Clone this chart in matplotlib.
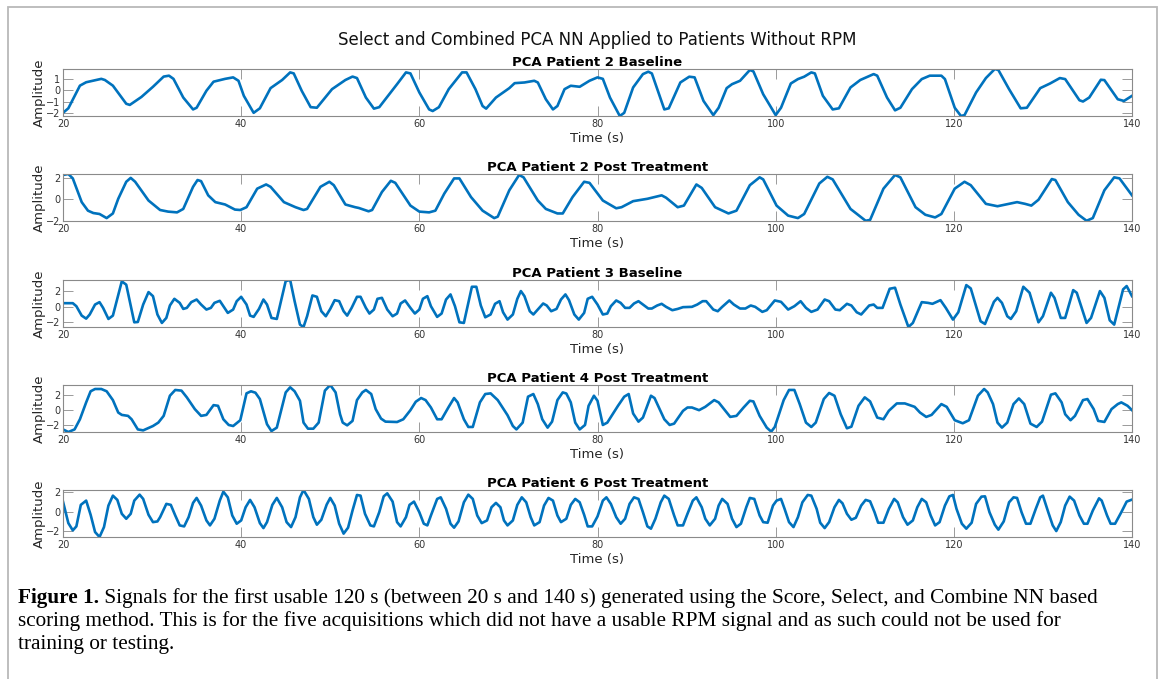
import matplotlib
matplotlib.use("Agg")
import matplotlib.pyplot as plt
from matplotlib.patches import Rectangle

# ---------------- data (time s, amplitude) ----------------
suptitle_text = "Select and Combined PCA NN Applied to Patients Without RPM"
panel_titles = ["PCA Patient 2 Baseline", "PCA Patient 2 Post Treatment",
                "PCA Patient 3 Baseline", "PCA Patient 4 Post Treatment",
                "PCA Patient 6 Post Treatment"]
x_ticks = [20, 40, 60, 80, 100, 120, 140]
y_ticks = [[-2, -1, 0, 1], [-2, 0, 2], [-2, 0, 2], [-2, 0, 2], [-2, 0, 2]]

p2_baseline = [(20,-2.0),(20.6,-1.6),(21.9,0.4),(22.6,0.7),(24.3,1.0),(24.7,0.9),(25.6,0.4),(27.1,-1.2),(27.5,-1.3),(28.8,-0.6),
 (30.1,0.3),(31.3,1.2),(31.9,1.28),(32.4,1.0),(33.5,-0.65),(34.6,-1.7),(35.0,-1.55),(36.1,-0.05),(36.9,0.75),(38.2,1.0),
 (39.1,1.13),(39.7,0.83),(40.3,-0.5),(41.4,-2.0),(42.1,-1.6),(43.3,0.18),(44.6,0.9),(45.5,1.57),(45.9,1.48),(46.8,-0.06),
 (47.8,-1.5),(48.5,-1.55),(50.2,0.09),(51.7,0.9),(52.5,1.2),(53.0,1.07),(54.0,-0.65),(54.9,-1.63),(55.5,-1.5),(57.5,0.53),
 (58.5,1.57),(59.0,1.48),(60.0,-0.2),(61.1,-1.7),(61.5,-1.84),(62.2,-1.5),(63.3,0.09),(64.8,1.57),(65.3,1.57),(66.3,0.09),
 (67.1,-1.4),(67.5,-1.63),(68.6,-0.65),(70.1,0.18),(70.7,0.62),(71.8,0.68),(72.9,0.83),(73.3,0.68),(74.2,-0.8),(75.0,-1.7),
 (75.5,-1.4),(76.3,0.09),(77.0,0.39),(78.0,0.3),(79.1,0.83),(80.0,1.13),(80.6,1.0),(81.4,-0.65),(82.5,-2.28),(83.0,-2.0),
 (84.0,0.24),(85.1,1.42),(85.7,1.63),(86.1,1.48),(87.5,-1.7),(88.0,-1.6),(89.3,0.68),(90.3,1.19),(90.9,1.13),(91.9,-0.95),
 (93.0,-2.2),(93.6,-1.55),(94.5,0.18),(95.1,0.53),(96.0,0.83),(97.1,1.78),(97.5,1.66),(98.6,-0.36),(100.0,-2.2),(100.6,-1.55),
 (101.7,0.59),(102.5,0.98),(103.2,1.19),(104.0,1.57),(104.4,1.48),(105.3,-0.5),(106.4,-1.7),(107.1,-1.6),(108.4,0.24),(109.5,0.9),
 (111.0,1.42),(111.4,1.28),(112.5,-0.65),(113.4,-1.78),(114.0,-1.55),(115.3,0.09),(116.4,0.98),(117.3,1.28),(118.6,1.28),(119.0,0.98),
 (120.1,-1.55),(120.8,-2.28),(121.2,-2.2),(122.5,-0.2),(123.6,1.07),(124.6,1.87),(125.0,1.78),(126.2,0.09),(127.5,-1.6),(128.2,-1.55),
 (129.7,0.18),(130.8,0.59),(131.9,1.07),(132.5,0.98),(134.1,-0.89),(134.5,-1.0),(135.2,-0.65),(136.5,0.92),(136.9,0.89),(138.4,-0.8),
 (139.1,-0.95),(140.0,-0.5)]

p2_post = [(20,2.27),(20.6,2.36),(21.1,1.95),(22.1,-0.25),(22.8,-1.04),(23.4,-1.26),(24.1,-1.35),(24.9,-1.73),(25.6,-1.3),(26.2,0.06),
 (27.1,1.64),(27.6,2.0),(28.1,1.64),(29.6,-0.1),(30.9,-0.98),(31.8,-1.13),(32.8,-1.2),(33.5,-0.88),(34.6,1.17),(35.1,1.8),
 (35.5,1.7),(36.3,0.38),(37.1,-0.25),(38.2,-0.47),(39.3,-0.94),(39.9,-0.98),(40.6,-0.72),(41.8,1.0),(42.8,1.39),(43.3,1.17),
 (44.8,-0.25),(46.1,-0.72),(47.0,-0.98),(47.4,-0.88),(48.9,1.17),(49.9,1.64),(50.4,1.32),(51.7,-0.47),(52.8,-0.72),(53.2,-0.79),
 (54.3,-1.1),(54.7,-0.98),(55.8,0.69),(56.8,1.73),(57.3,1.54),(59.0,-0.57),(60.0,-1.13),(61.1,-1.2),(61.8,-1.04),(62.8,0.54),
 (63.9,1.95),(64.5,1.95),(65.8,0.22),(67.1,-1.04),(68.4,-1.73),(68.8,-1.6),(70.1,0.85),(71.2,2.27),(71.7,2.05),(73.3,-0.1),
 (74.2,-0.88),(75.5,-1.3),(76.1,-1.3),(77.2,0.22),(78.5,1.64),(79.1,1.54),(80.6,-0.1),(82.1,-0.82),(82.7,-0.72),(84.0,-0.16),
 (85.6,0.06),(87.2,0.38),(87.7,0.16),(89.0,-0.72),(89.7,-0.57),(91.1,1.39),(91.7,1.07),(93.2,-0.72),(94.7,-1.3),(95.6,-1.04),
 (97.1,1.32),(98.2,2.05),(98.6,1.86),(100.1,-0.57),(101.4,-1.5),(102.5,-1.73),(103.2,-1.35),(104.9,1.48),(105.8,2.1),(106.4,1.86),
 (108.4,-0.88),(110.1,-1.98),(110.6,-1.9),(112.1,1.0),(113.4,2.27),(114.0,2.05),(115.7,-0.72),(116.8,-1.42),(117.9,-1.67),(118.6,-1.35),
 (120.1,1.0),(121.2,1.64),(121.9,1.32),(123.6,-0.41),(124.9,-0.63),(127.1,-0.25),(128.0,-0.41),(128.7,-0.57),(129.5,-0.03),(131.0,1.89),
 (131.4,1.8),(132.8,-0.25),(134.0,-1.42),(134.9,-1.98),(135.6,-1.73),(136.9,0.85),(138.0,2.05),(138.6,1.95),(140.0,0.38)]

p3_baseline = [(20,0.42),(21.1,0.42),(21.5,0.04),(22.1,-1.14),(22.6,-1.52),(23.0,-1.0),(23.6,0.25),(24.1,0.55),(24.5,-0.17),(25.1,-1.56),
 (25.6,-1.14),(26.6,3.16),(27.1,2.74),(28.0,-1.98),(28.4,-1.94),(29.0,0.25),(29.6,1.81),(30.1,1.3),(30.6,-1.0),(31.1,-2.06),
 (31.6,-1.43),(32.0,0.13),(32.5,0.97),(33.1,0.46),(33.5,-0.3),(33.9,-0.17),(34.4,0.55),(35.0,0.88),(35.5,0.25),(36.1,-0.38),
 (36.6,-0.17),(37.0,0.46),(37.6,0.72),(38.0,0.04),(38.5,-0.8),(39.1,-0.38),(39.5,0.67),(40.0,1.22),(40.6,0.25),(41.0,-1.14),
 (41.4,-1.3),(42.0,-0.3),(42.5,0.88),(42.9,0.25),(43.4,-1.43),(44.0,-1.56),(45.0,3.2),(45.5,3.33),(46.0,0.67),(46.6,-2.27),
 (47.0,-2.57),(47.4,-1.22),(48.0,1.39),(48.5,1.22),(49.0,-0.59),(49.5,-1.22),(50.0,-0.3),(50.5,0.8),(51.0,0.67),(51.5,-0.59),
 (51.9,-1.14),(52.4,-0.17),(53.0,1.22),(53.4,1.22),(54.0,-0.17),(54.4,-0.88),(54.9,-0.38),(55.3,0.97),(55.8,1.09),(56.4,-0.38),
 (57.0,-1.22),(57.5,-0.88),(57.9,0.38),(58.4,0.76),(59.0,-0.17),(59.5,-0.88),(60.0,-0.38),(60.4,0.97),(60.9,1.3),(61.3,0.04),
 (62.0,-1.3),(62.5,-0.88),(63.0,0.88),(63.5,1.52),(64.0,0.04),(64.5,-1.98),(65.0,-2.06),(65.9,2.48),(66.4,2.48),(66.9,0.13),
 (67.4,-1.35),(68.0,-1.0),(68.5,0.34),(69.0,0.67),(69.4,-0.72),(69.9,-1.64),(70.5,-1.0),(71.0,0.97),(71.4,1.94),(71.8,1.3),
 (72.4,-0.59),(72.8,-1.0),(73.3,-0.38),(73.9,0.38),(74.3,0.13),(74.8,-0.59),(75.4,-0.3),(75.9,0.88),(76.4,1.52),(76.8,0.8),
 (77.4,-1.0),(77.9,-1.64),(78.5,-0.8),(78.9,0.97),(79.4,1.22),(80.0,0.25),(80.6,-1.0),(81.1,-0.88),(81.5,0.04),(82.1,0.76),
 (82.6,0.46),(83.1,-0.17),(83.6,-0.17),(84.1,0.38),(84.6,0.67),(85.1,0.25),(85.7,-0.25),(86.1,-0.25),(86.7,0.13),(87.2,0.34),
 (87.7,-0.04),(88.4,-0.46),(89.0,-0.3),(89.6,-0.08),(90.6,-0.04),(91.2,0.25),(91.8,0.67),(92.2,0.67),(93.0,-0.38),(93.5,-0.59),
 (94.0,-0.04),(94.8,0.76),(95.3,0.25),(96.0,-0.25),(96.6,-0.25),(97.2,0.13),(97.7,-0.04),(98.5,-0.67),(99.0,-0.46),(99.9,0.76),
 (100.6,0.59),(101.4,-0.38),(102.1,0.04),(102.8,0.67),(103.4,-0.17),(104.0,-0.67),(104.7,-0.38),(105.5,0.88),(106.0,0.67),(106.7,-0.38),
 (107.2,-0.46),(108.0,0.34),(108.5,0.13),(109.1,-0.72),(109.6,-1.0),(110.5,0.13),(111.0,0.25),(111.4,-0.17),(112.0,-0.17),(112.8,2.23),
 (113.4,2.36),(114.0,0.25),(114.9,-2.57),(115.4,-2.06),(116.4,0.55),(117.1,0.46),(117.6,0.34),(118.5,0.8),(119.1,-0.17),(119.9,-1.64),
 (120.5,-0.72),(121.4,2.69),(121.9,2.27),(123.0,-1.85),(123.5,-2.19),(124.5,0.59),(124.9,1.09),(125.4,0.46),(126.0,-1.22),(126.4,-1.56),
 (127.0,-0.59),(127.8,2.48),(128.5,1.73),(129.5,-1.98),(130.0,-1.22),(130.9,1.73),(131.3,1.09),(132.0,-1.43),(132.5,-1.43),(133.4,2.06),
 (133.8,1.73),(134.9,-2.06),(135.4,-1.43),(136.4,1.94),(136.9,1.09),(137.5,-1.73),(138.0,-2.27),(139.0,2.15),(139.4,2.57),(140.0,1.3)]

p4_post = [(20,-2.6),(20.6,-2.95),(21.3,-2.6),(21.9,-1.23),(22.6,1.05),(23.1,2.55),(23.6,2.86),(24.3,2.86),(24.9,2.55),(25.6,1.36),
 (26.2,-0.32),(26.6,-0.64),(27.3,-0.77),(27.7,-1.23),(28.4,-2.6),(29.0,-2.73),(30.1,-2.14),(30.7,-1.68),(31.3,-0.77),(32.0,1.95),
 (32.6,2.73),(33.3,2.64),(33.9,1.73),(34.8,0.14),(35.5,-0.77),(36.1,-0.64),(36.9,0.68),(37.4,0.59),(38.0,-1.23),(38.6,-2.0),
 (39.1,-2.14),(39.9,-1.36),(40.6,2.27),(41.1,2.55),(41.6,2.36),(42.1,1.5),(42.9,-1.9),(43.4,-2.82),(44.0,-2.36),(45.0,2.4),
 (45.5,3.09),(46.0,2.55),(46.6,1.27),(47.0,-1.68),(47.5,-2.5),(48.1,-2.5),(48.7,-1.68),(49.4,2.64),(50.0,3.4),(50.6,2.4),
 (51.1,-0.55),(51.4,-1.68),(51.9,-2.05),(52.5,-1.45),(53.0,1.36),(53.6,2.4),(54.0,2.73),(54.6,2.18),(55.1,0.14),(55.7,-1.14),
 (56.2,-1.55),(57.5,-1.6),(58.2,-1.23),(59.0,0.0),(59.6,1.14),(60.2,1.64),(60.7,1.36),(61.3,0.36),(62.0,-1.23),(62.5,-1.23),
 (63.3,0.45),(63.9,1.64),(64.3,1.05),(65.0,-1.23),(65.5,-2.27),(66.0,-2.27),(66.8,1.05),(67.4,2.18),(68.0,2.27),(68.8,1.36),
 (69.9,-0.68),(70.5,-2.14),(70.9,-2.6),(71.6,-1.68),(72.2,1.82),(72.8,2.18),(73.3,0.82),(73.8,-1.23),(74.4,-2.36),(74.9,-1.55),
 (75.5,1.36),(76.1,2.4),(76.5,2.25),(77.0,1.05),(77.5,-1.68),(78.0,-2.6),(78.6,-2.0),(79.0,0.59),(79.6,1.95),(80.0,1.27),
 (80.6,-2.0),(81.1,-1.68),(82.3,0.59),(83.0,1.82),(83.5,2.18),(84.0,-0.45),(84.6,-1.55),(85.1,-1.0),(86.0,1.95),(86.4,1.64),
 (87.5,-1.23),(88.1,-2.0),(88.6,-1.82),(89.6,-0.09),(90.1,0.36),(90.6,0.36),(91.4,0.0),(92.1,0.45),(93.1,1.36),(93.6,1.05),
 (94.9,-0.91),(95.6,-0.77),(96.4,0.36),(97.1,1.27),(97.5,1.18),(98.2,-0.77),(99.0,-2.36),(99.5,-2.9),(99.9,-2.27),(100.9,1.36),
 (101.5,2.73),(102.1,2.73),(102.7,0.82),(103.4,-1.68),(104.0,-2.27),(104.5,-1.68),(105.4,1.5),(106.0,2.32),(106.6,1.95),(107.3,-0.55),
 (108.0,-2.45),(108.5,-2.23),(109.3,0.59),(110.0,1.73),(110.6,1.18),(111.4,-1.0),(112.1,-1.23),(112.7,-0.09),(113.6,0.91),(114.5,0.91),
 (115.6,0.45),(116.2,-0.32),(116.9,-0.91),(117.5,-0.64),(118.6,0.82),(119.2,0.45),(120.1,-1.36),(121.0,-1.77),(121.7,-1.36),(122.7,1.95),
 (123.4,2.86),(123.8,2.4),(124.4,0.82),(124.9,-1.68),(125.4,-2.36),(126.0,-1.68),(126.7,0.82),(127.3,1.59),(127.9,0.82),(128.6,-1.82),
 (129.3,-2.27),(129.9,-1.55),(130.9,2.09),(131.4,2.27),(132.1,1.05),(132.5,-0.55),(133.1,-1.36),(133.6,-0.77),(134.5,1.36),(135.0,1.5),
 (135.7,0.14),(136.2,-1.45),(136.9,-1.59),(137.7,0.14),(138.4,0.82),(138.8,1.05),(139.5,0.59),(140.0,0.0)]

p6_post = [(20,1.0),(20.2,0.27),(20.6,-1.17),(21.1,-1.9),(21.5,-1.5),(22.0,0.67),(22.6,1.1),(23.1,-0.33),(23.6,-2.07),(24.1,-2.57),
 (24.6,-1.57),(25.1,0.6),(25.6,1.6),(26.1,1.17),(26.6,-0.23),(27.1,-0.73),(27.6,-0.23),(28.0,1.1),(28.6,1.7),(29.0,1.27),
 (29.6,-0.33),(30.1,-1.07),(30.6,-1.0),(30.9,-0.57),(31.6,0.77),(32.1,0.67),(32.6,-0.4),(33.1,-1.4),(33.6,-1.5),(34.1,-0.57),
 (34.6,0.87),(35.0,1.37),(35.5,0.6),(36.1,-0.9),(36.5,-1.4),(37.0,-0.73),(37.6,1.1),(38.0,2.0),(38.5,1.43),(39.0,-0.4),
 (39.5,-1.23),(40.0,-0.9),(40.5,0.43),(41.0,1.17),(41.5,0.43),(42.1,-1.17),(42.5,-1.67),(42.9,-1.07),(43.5,0.67),(44.0,1.37),
 (44.6,0.43),(45.1,-1.07),(45.6,-1.57),(46.1,-0.57),(46.6,1.43),(47.0,2.17),(47.6,1.27),(48.1,-0.57),(48.5,-1.33),(49.0,-0.83),
 (49.6,0.7),(50.0,1.37),(50.5,0.6),(51.0,-1.23),(51.5,-2.23),(52.0,-1.63),(52.5,0.1),(53.0,1.67),(53.4,1.6),(53.9,-0.23),
 (54.5,-1.4),(54.9,-1.5),(55.5,-0.07),(56.0,1.53),(56.4,1.83),(57.0,1.0),(57.5,-1.07),(57.9,-1.5),(58.5,-0.57),(58.9,0.67),
 (59.4,1.0),(60.0,-0.07),(60.5,-1.23),(60.9,-1.4),(61.3,-0.4),(62.0,1.27),(62.4,1.43),(63.0,0.27),(63.5,-1.23),(63.9,-1.63),
 (64.4,-1.0),(65.0,0.93),(65.5,1.7),(66.0,1.27),(66.5,-0.4),(67.0,-1.17),(67.6,-0.9),(68.1,0.43),(68.6,0.87),(69.1,0.43),
 (69.5,-0.9),(69.9,-1.4),(70.5,-0.9),(71.0,0.67),(71.5,1.43),(72.0,0.93),(72.5,-0.57),(72.9,-1.4),(73.5,-1.07),(74.0,0.6),
 (74.5,1.37),(75.0,1.1),(75.5,-0.4),(75.9,-1.07),(76.5,-0.73),(77.0,0.67),(77.5,1.27),(78.0,0.93),(78.5,-0.33),(78.9,-1.5),
 (79.4,-1.5),(80.0,-0.5),(80.6,1.1),(81.0,1.43),(81.5,0.77),(82.1,-0.57),(82.6,-1.23),(83.1,-0.73),(83.6,0.77),(84.1,1.43),
 (84.6,1.27),(85.1,-0.07),(85.6,-1.5),(86.0,-1.73),(86.5,-0.73),(87.1,0.93),(87.5,1.6),(88.0,1.27),(88.6,-0.4),(89.0,-1.4),
 (89.6,-1.4),(90.1,-0.23),(90.7,1.1),(91.1,1.43),(91.7,0.43),(92.1,-0.73),(92.6,-1.4),(93.2,-0.73),(93.6,0.6),(94.0,1.27),
 (94.6,0.77),(95.1,-0.73),(95.6,-1.57),(96.1,-1.23),(96.7,0.43),(97.1,1.37),(97.6,1.27),(98.2,-0.4),(98.6,-1.07),(99.1,-1.13),
 (99.7,0.6),(100.1,1.1),(100.6,1.27),(101.0,0.27),(101.5,-1.07),(102.0,-1.57),(102.5,-0.57),(103.0,0.93),(103.6,1.67),(104.0,1.6),
 (104.6,0.27),(105.0,-1.13),(105.5,-1.67),(106.0,-1.07),(106.6,0.43),(107.1,1.17),(107.5,0.83),(108.0,-0.23),(108.5,-0.83),(109.0,-0.63),
 (109.6,0.6),(110.1,1.17),(110.6,1.03),(111.1,-0.07),(111.5,-1.13),(112.1,-1.13),(112.7,0.27),(113.3,1.27),(113.7,0.93),(114.3,-0.57),
 (114.8,-1.33),(115.4,-0.9),(115.9,0.43),(116.4,1.27),(116.9,0.93),(117.4,-0.4),(117.9,-1.4),(118.4,-1.07),(119.0,0.6),(119.5,1.53),
 (119.9,1.67),(120.3,0.27),(120.9,-1.23),(121.4,-1.73),(122.0,-1.13),(122.5,0.77),(123.1,1.5),(123.5,1.53),(124.0,-0.07),(124.6,-1.33),
 (125.0,-1.83),(125.6,-1.0),(126.2,0.93),(126.7,1.43),(127.1,1.37),(127.6,-0.07),(128.1,-1.23),(128.6,-1.23),(129.2,0.27),(129.7,1.43),
 (130.0,1.6),(130.6,-0.07),(131.1,-1.4),(131.5,-1.97),(132.0,-1.07),(132.5,0.6),(133.0,1.5),(133.5,1.1),(134.1,-0.4),(134.6,-1.23),
 (135.0,-1.23),(135.6,0.1),(136.3,1.33),(136.6,1.1),(137.2,-0.4),(137.6,-1.23),(138.1,-1.23),(138.8,-0.07),(139.4,1.0),(140.0,1.2)]

series = [p2_baseline, p2_post, p3_baseline, p4_post, p6_post]

caption_bold = "Figure 1."
caption_lines = [" Signals for the first usable 120 s (between 20 s and 140 s) generated using the Score, Select, and Combine NN based",
                 "scoring method. This is for the five acquisitions which did not have a usable RPM signal and as such could not be used for",
                 "training or testing."]

# ---------------- layout ----------------
W, H = 1168, 679
fig = plt.figure(figsize=(W / 100, H / 100), dpi=100)
fig.patch.set_facecolor("white")

def fx(px):
    return px / W

def fy(py):
    return 1 - py / H

# outer frame of the figure box
fig.patches.append(Rectangle((fx(8), -0.05), fx(1157) - fx(8), fy(7) + 0.05,
                             transform=fig.transFigure, fill=False,
                             edgecolor="#b9b9b9", lw=1.3, zorder=0))

line_color = "#0072BD"
axis_color = "#262626"
spine_color = "#8a8a8a"
left_px, right_px = 63, 1132
tops_px = [69, 174, 280, 385, 490]
height_px = 47

for i, (data, title) in enumerate(zip(series, panel_titles)):
    top = tops_px[i]
    ax = fig.add_axes([fx(left_px), fy(top + height_px), fx(right_px) - fx(left_px), height_px / H])
    t = [p[0] for p in data]
    v = [p[1] for p in data]
    ax.plot(t, v, color=line_color, lw=1.9, solid_joinstyle="round")
    ax.set_xlim(20, 140)
    ax.set_ylim(min(v), max(v))
    ax.set_xticks(x_ticks)
    ax.set_yticks(y_ticks[i])
    ax.tick_params(direction="in", length=7, width=0.6, top=True, right=True,
                   labelsize=7, colors=spine_color, labelcolor="#333333", pad=2)
    for s in ax.spines.values():
        s.set_color(spine_color)
        s.set_linewidth(0.8)
    ax.set_title(title, fontsize=9.5, fontweight="bold", pad=2.0)
    ax.set_xlabel("Time (s)", fontsize=9.5, labelpad=2, color=axis_color)
    ax.set_ylabel("Amplitude", fontsize=9.5, labelpad=0, color=axis_color)

fig.text(fx((left_px + right_px) / 2), fy(40), suptitle_text, ha="center", va="center",
         fontsize=12, color="#111111")

# ---------------- caption ----------------
cap_font = "Liberation Serif"
cap_size = 13.0
fig.canvas.draw()
renderer = fig.canvas.get_renderer()
tb = fig.text(fx(18), fy(603), caption_bold, fontsize=cap_size, fontweight="bold",
              family=cap_font, va="baseline", ha="left")
tr = fig.text(0, 0, caption_lines[0], fontsize=cap_size, family=cap_font)
w = tb.get_window_extent(renderer).width + tr.get_window_extent(renderer).width
tr.remove()
scale = (1093 - 18) / w
cap_size *= scale
tb.set_fontsize(cap_size)
fig.canvas.draw()
wb = tb.get_window_extent(renderer).width
fig.text(fx(18) + wb / W, fy(603), caption_lines[0], fontsize=cap_size, family=cap_font,
         va="baseline", ha="left")
fig.text(fx(18), fy(626), caption_lines[1], fontsize=cap_size, family=cap_font,
         va="baseline", ha="left")
fig.text(fx(18), fy(649), caption_lines[2], fontsize=cap_size, family=cap_font,
         va="baseline", ha="left")

fig.savefig("out.png", dpi=100, facecolor="white")
